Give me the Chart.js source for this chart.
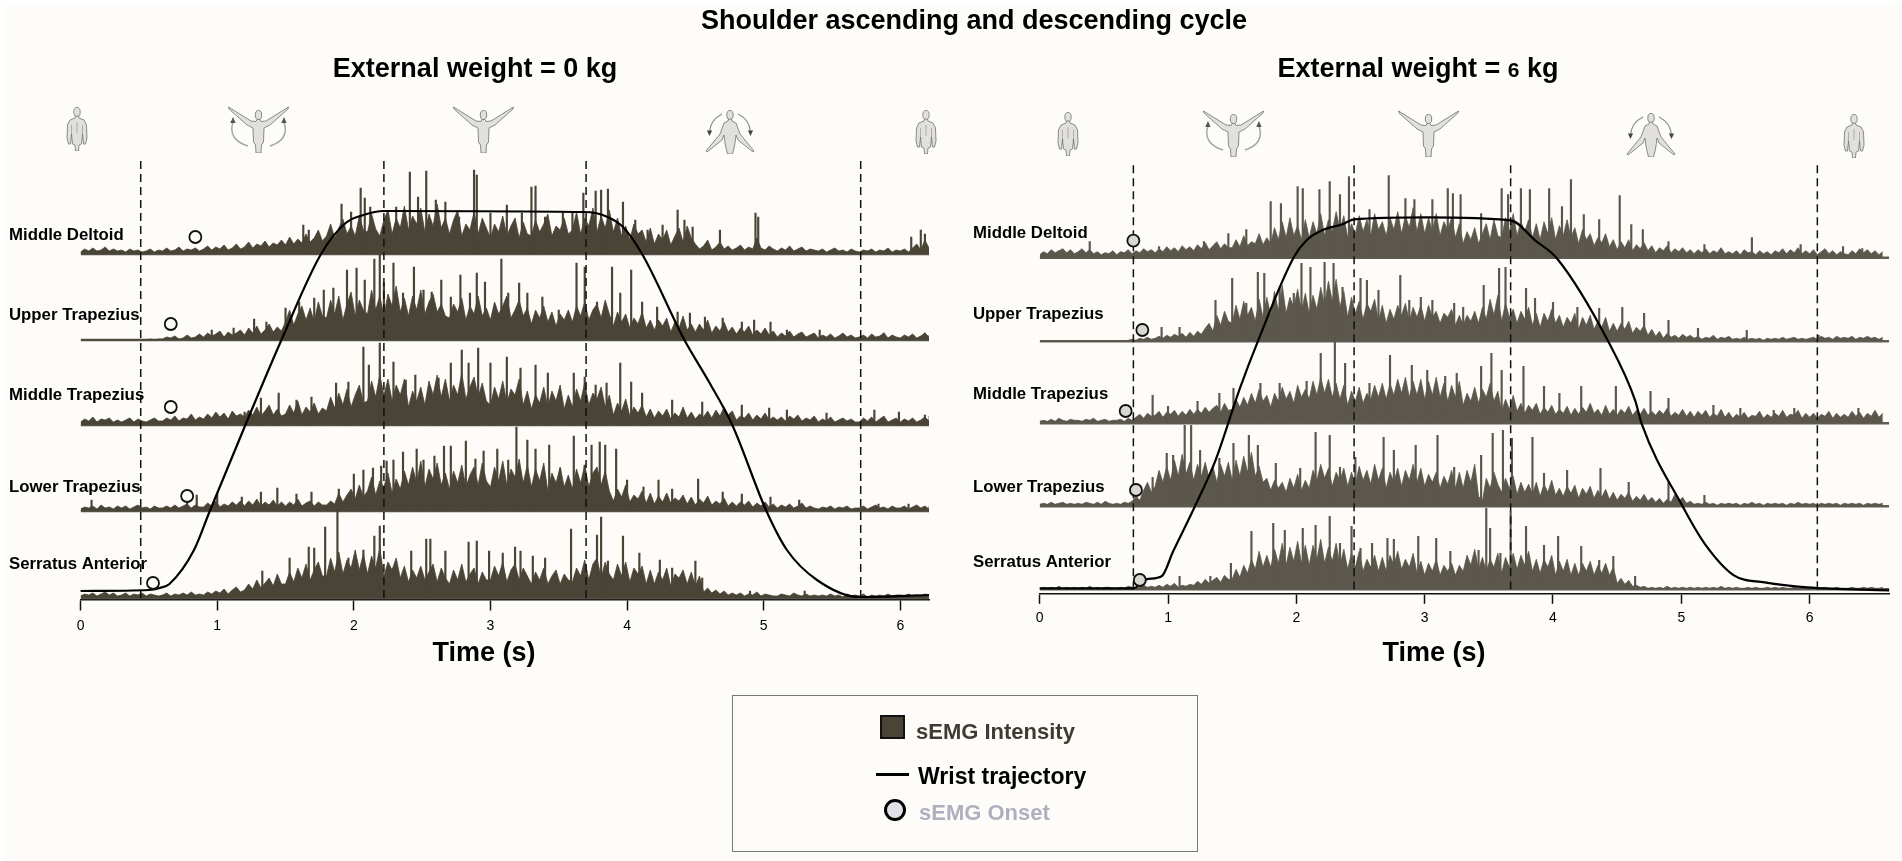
<!DOCTYPE html>
<html><head><meta charset="utf-8">
<script src="https://cdn.jsdelivr.net/npm/chart.js@4/dist/chart.umd.min.js"></script>
<style>
html,body{margin:0;padding:0;background:#fff;width:1902px;height:861px;overflow:hidden;font-family:"Liberation Sans",Arial,sans-serif}
#paper{position:absolute;left:5px;top:5px;right:0;bottom:0;background:#fdfcf9}
canvas{position:absolute}
.head{position:absolute;transform:translateX(-50%);white-space:nowrap;font-weight:bold;font-size:27px;line-height:32px;color:#000}
#legend{position:absolute;left:732px;top:695px;width:466px;height:157px;border:1.5px solid #777;box-sizing:border-box}
.lg{position:absolute;font-weight:bold;white-space:nowrap;line-height:26px}
.icon{position:absolute;overflow:visible}
</style></head><body>
<div id="paper"></div>
<canvas id="c0" style="left:0;top:0;width:950px;height:700px"></canvas>
<canvas id="c1" style="left:942px;top:0;width:955px;height:700px"></canvas>
<div class="head" style="left:974px;top:4px">Shoulder ascending and descending cycle</div>
<div class="head" style="left:475px;top:52px">External weight = 0 kg</div>
<div class="head" style="left:1418px;top:52px">External weight = <span style="font-size:21px">6</span> kg</div>
<div class="head" style="left:484px;top:636px">Time (s)</div>
<div class="head" style="left:1434px;top:636px">Time (s)</div>
<svg width="0" height="0" style="position:absolute"><defs>
<symbol id="stand" viewBox="0 0 22 44"><ellipse cx="11" cy="5" rx="3.2" ry="4.6" fill="#e2e0dc" stroke="#77787a" stroke-width=".8"/><path d="M9.5 9 L12.5 9 L13 11 L18 13 L20.5 18 L21 31 L19.5 37 L17.5 37 L16.5 27 L15.5 37 L13 38 L12.5 44 L9.5 44 L9 38 L6.5 37 L5.5 27 L4.5 37 L2.5 37 L1 31 L1.5 18 L4 13 L9 11Z" fill="#e2e0dc" stroke="#6f7072" stroke-width=".8"/><path d="M11 15V26M5.5 18V27M16.5 18V27" stroke="#8a8a88" stroke-width=".6" fill="none"/></symbol>
<symbol id="raiseB" viewBox="0 0 61 47"><g fill="#e2e0dc" stroke="#6f7072" stroke-width=".8"><ellipse cx="30.5" cy="9" rx="3.2" ry="4.6"/><path d="M29 13.5 L32 13.5 L33 15.5 L38 15 L60.5 1 L60 3 L42 19 L36 22 L35.5 36 L33.5 39 L33 47 L28 47 L27.5 39 L25.5 36 L25 22 L19 19 L1 3 L0.5 1 L23 15 L28 15.5Z"/></g></symbol>
<symbol id="raise" viewBox="0 0 61 47"><g fill="#e2e0dc" stroke="#6f7072" stroke-width=".8"><ellipse cx="30.5" cy="9" rx="3.2" ry="4.6"/><path d="M29 13.5 L32 13.5 L33 15.5 L38 15 L60.5 1 L60 3 L42 19 L36 22 L35.5 36 L33.5 39 L33 47 L28 47 L27.5 39 L25.5 36 L25 22 L19 19 L1 3 L0.5 1 L23 15 L28 15.5Z"/></g><path d="M5 16 C1 28 7 36 20 40M56 16 C60 28 54 36 42 40" fill="none" stroke="#a5a6a6" stroke-width="1.5"/><path d="M5 11 l-2.8 6 l5.4 0zM56 11 l-2.8 6 l5.4 0z" fill="#555"/></symbol>
<symbol id="lower" viewBox="0 0 50 44"><g fill="#e2e0dc" stroke="#6f7072" stroke-width=".8"><ellipse cx="25" cy="5" rx="3.2" ry="4.6"/><path d="M23.5 9 L26.5 9 L27 11 L31 13 L35 24 L49 41 L48 42 L33 30 L31 25 L30 33 L29 38 L27.5 44 L22.5 44 L21 38 L20 33 L19 25 L17 30 L2 42 L1 41 L15 24 L19 13 L23 11Z"/></g><path d="M17 4 C9 8 5 14 4.5 22M33 4 C41 8 45 14 45.5 22" fill="none" stroke="#8d8e8e" stroke-width="1.2"/><path d="M4.5 26 l-2.6 -5.5 l5.2 0zM45.5 26 l-2.6 -5.5 l5.2 0z" fill="#444"/></symbol>
</defs></svg>
<svg class="icon" style="left:66px;top:107px" width="22" height="44"><use href="#stand"/></svg>
<svg class="icon" style="left:228px;top:106px" width="61" height="47"><use href="#raise"/></svg>
<svg class="icon" style="left:453px;top:106px" width="61" height="47"><use href="#raiseB"/></svg>
<svg class="icon" style="left:705px;top:110px" width="50" height="44"><use href="#lower"/></svg>
<svg class="icon" style="left:915px;top:110px" width="22" height="44"><use href="#stand"/></svg>
<svg class="icon" style="left:1057px;top:112px" width="22" height="44"><use href="#stand"/></svg>
<svg class="icon" style="left:1203px;top:110px" width="61" height="47"><use href="#raise"/></svg>
<svg class="icon" style="left:1398px;top:110px" width="61" height="47"><use href="#raiseB"/></svg>
<svg class="icon" style="left:1626px;top:113px" width="50" height="44"><use href="#lower"/></svg>
<svg class="icon" style="left:1843px;top:114px" width="22" height="44"><use href="#stand"/></svg>
<div id="legend"></div>
<div class="lg" style="left:880px;top:715px;width:25px;height:24px;background:#4a4436;border:2px solid #111;box-sizing:border-box"></div>
<div class="lg" style="left:916px;top:719px;font-size:22px;color:#3f3b33">sEMG Intensity</div>
<div class="lg" style="left:876px;top:773px;width:33px;height:3px;background:#000"></div>
<div class="lg" style="left:918px;top:763px;font-size:23px;color:#000">Wrist trajectory</div>
<div class="lg" style="left:884px;top:799px;width:22px;height:22px;border-radius:50%;background:#e0e0e6;border:3px solid #000;box-sizing:border-box"></div>
<div class="lg" style="left:919px;top:800px;font-size:22px;color:#b0afc0">sEMG Onset</div>
<script>
const muscles=["Middle Deltoid","Upper Trapezius","Middle Trapezius","Lower Trapezius","Serratus Anterior"];
const xTicks=[0,1,2,3,4,5,6];
const envStep=0.03;

// ---- external weight 0 kg ----
const wristT0=[0,0.5,0.58,0.65,0.83,0.94,1.2,1.47,1.76,1.94,2.07,2.22,3.69,3.84,3.97,4.11,4.42,4.6,4.77,5.02,5.17,5.39,5.7,6.21];
const wristY0=[9,10,12,16,50,87,173,260,346,377,385,389,388,384,373,346,260,218,175,89,50,20,3,5];
const cycle0=[0.44,2.22,3.7,5.71];
const onsetT0=[0.84,0.66,0.66,0.78,0.53];
const onsetY0=[363,276,193,104,17];
const base0=[346,260,175,89,2];
const labelY0=[235,315,395,487,564];
const env0Deltoid=[2,5,3,6,3,4,7,3,5,3,4,2,5,3,4,2,3,5,2,4,3,6,3,4,7,3,5,4,6,3,5,8,4,7,5,9,4,6,10,5,7,12,6,10,8,13,7,11,9,14,9,17,10,15,11,20,12,16,24,13,18,30,16,26,35,20,28,18,38,24,22,40,25,18,34,44,20,36,26,48,24,38,30,46,22,40,28,50,26,36,20,34,44,18,30,24,42,20,36,26,16,30,22,38,18,28,36,16,32,20,18,34,22,30,40,18,28,24,36,20,24,42,20,36,28,46,22,38,26,44,22,36,18,28,14,30,20,24,12,26,10,20,14,24,9,18,26,12,28,16,10,5,8,14,4,7,12,5,8,4,6,9,4,7,5,16,6,4,8,5,3,6,4,8,3,5,7,3,5,4,3,5,2,4,6,3,4,2,5,3,2,4,3,5,2,4,3,6,2,4,3,5,2,6,10,4,14,6,3];
const env0Upper=[0,0,0,0,0,0,0,0,0,0,0,0,0,0,0,0,0,1,0,1,1,3,2,4,1,2,5,2,3,6,3,7,4,6,9,3,8,5,7,10,5,12,7,14,6,10,16,8,13,9,18,30,15,26,34,20,32,18,38,24,22,40,26,44,20,36,48,24,40,30,26,50,30,44,24,46,34,54,28,42,24,44,30,50,26,38,46,28,36,24,22,36,28,42,20,34,26,44,24,32,20,38,26,34,44,22,30,40,24,32,16,30,22,34,18,28,14,26,20,30,18,34,24,38,20,30,36,22,40,26,14,28,18,26,12,22,16,28,12,20,10,20,14,22,8,18,12,24,10,16,8,16,10,20,7,14,9,18,8,13,6,12,8,14,5,10,6,12,5,9,3,7,4,9,3,6,8,3,5,7,2,5,3,6,2,4,7,3,5,2,3,5,2,6,3,4,7,2,5,3,2,5,3,6,2,4,7,3,5];
const env0Middle=[3,6,4,8,3,6,5,7,3,5,3,5,7,3,6,4,3,5,7,4,4,7,5,9,4,7,6,11,5,8,6,11,7,13,8,12,6,14,9,11,8,15,10,18,9,14,20,10,16,9,11,20,12,24,10,18,13,22,11,17,14,28,17,32,20,36,18,30,40,22,24,44,28,50,30,46,24,40,30,46,18,34,24,38,20,44,30,50,28,46,24,40,30,52,26,38,48,28,42,24,20,38,26,44,22,36,30,46,20,34,16,30,22,38,18,34,24,40,16,30,18,36,24,42,20,32,26,38,18,30,10,22,14,26,9,18,12,20,8,16,7,14,9,16,6,12,8,18,7,13,6,11,8,14,7,15,9,18,10,14,5,9,7,12,5,10,6,12,5,8,5,8,4,9,6,10,4,7,5,9,3,6,4,8,3,5,7,4,6,3,3,7,4,8,3,6,9,3,5,7,3,6,4,7,3,5,8,4,9];
const env0Lower=[2,4,3,5,2,6,3,4,2,5,3,5,2,4,6,3,4,2,5,3,3,5,3,6,3,5,7,3,6,4,4,8,5,10,4,7,5,9,6,10,5,10,6,12,5,9,6,11,5,9,5,9,6,12,5,8,10,5,9,6,6,10,7,18,9,16,22,12,26,14,20,34,16,30,24,38,18,32,22,40,26,44,28,50,24,42,32,48,26,38,22,40,28,46,24,36,44,26,48,30,24,44,30,50,26,42,34,52,28,46,24,42,30,48,20,38,28,44,24,36,22,42,28,46,24,38,44,26,40,20,10,22,14,26,9,16,12,20,8,18,7,15,9,18,8,13,10,16,7,14,6,12,8,15,6,10,7,13,5,9,5,9,6,10,4,8,5,9,4,7,3,6,4,7,3,5,8,3,5,3,2,4,3,5,2,4,3,5,2,3,3,5,2,4,6,3,4,2,5,3,3,5,2,4,6,3,5,2,5];
const env0Serratus=[2,4,3,5,2,4,6,3,5,2,3,5,2,4,3,5,2,4,3,2,3,5,2,4,3,5,3,6,3,4,3,6,4,7,5,9,4,8,11,6,8,14,9,18,10,15,20,12,24,14,14,26,16,30,20,34,18,28,36,22,22,40,26,46,24,38,30,48,28,44,24,42,30,50,22,36,28,40,20,32,16,28,20,32,18,26,34,16,30,20,14,28,18,34,16,24,30,14,26,18,18,32,22,36,16,28,34,18,30,22,14,26,18,30,14,22,28,14,24,18,16,30,22,38,18,34,40,20,36,24,18,34,22,36,16,30,24,32,14,28,14,26,18,30,12,24,20,28,14,26,12,22,6,10,5,8,4,7,3,5,3,5,2,4,3,6,2,4,3,2,2,4,3,2,5,3,2,4,2,3,2,3,2,4,2,3,1,4,2,3,2,4,1,3,2,3,2,4,2,3,3,2,4,2,3,2,4,3,2];
const spk0Deltoid=[[1.63,29],[1.67,24],[1.91,50],[1.98,42],[2.05,66],[2.08,56],[2.12,47],[2.25,41],[2.31,47],[2.41,82],[2.47,57],[2.53,83],[2.6,54],[2.67,52],[2.77,37],[2.88,84],[2.9,79],[3,41],[3.12,49],[3.23,41],[3.3,67],[3.33,68],[3.4,37],[3.53,41],[3.6,41],[3.68,61],[3.77,63],[3.81,64],[3.86,65],[3.97,52],[4.06,34],[4.15,24],[4.26,29],[4.37,44],[4.42,34],[4.48,27],[4.68,24],[4.94,41],[4.96,37],[6.08,17],[6.15,24],[6.18,20]];
const spk0Upper=[[0.96,10],[1.12,12],[1.27,21],[1.36,18],[1.5,32],[1.6,38],[1.71,42],[1.78,50],[1.85,52],[1.95,70],[2.02,72],[2.08,60],[2.15,81],[2.19,85],[2.22,57],[2.29,77],[2.36,47],[2.44,73],[2.51,50],[2.57,48],[2.64,60],[2.71,43],[2.78,65],[2.85,47],[2.9,67],[2.96,58],[3.08,81],[3.13,47],[3.21,57],[3.27,47],[3.38,43],[3.5,30],[3.63,77],[3.69,73],[3.78,38],[3.89,73],[3.95,47],[4.03,70],[4.11,38],[4.22,33],[4.37,28],[4.46,27],[4.57,23],[4.7,22],[4.84,18],[4.93,20],[5.05,18],[5.17,10],[5.41,10],[5.88,7],[6.18,7]];
const spk0Middle=[[1.2,13],[1.32,27],[1.45,32],[1.58,25],[1.69,28],[1.87,42],[1.96,43],[2.07,78],[2.11,60],[2.19,82],[2.29,63],[2.38,45],[2.45,50],[2.62,47],[2.71,62],[2.79,75],[2.84,62],[2.91,77],[3,62],[3.12,68],[3.22,57],[3.33,60],[3.42,52],[3.61,52],[3.69,48],[3.77,40],[3.85,42],[3.95,62],[4.03,43],[4.11,32],[4.33,25],[4.55,23],[4.84,20],[5.04,17],[5.17,15],[5.46,12],[5.81,15],[5.99,13],[6.18,10]];
const spk0Lower=[[0.08,11],[0.78,12],[0.85,16],[1,17],[1.18,14],[1.32,19],[1.44,23],[1.58,17],[1.69,19],[1.89,22],[2,37],[2.07,41],[2.14,43],[2.2,45],[2.24,50],[2.29,51],[2.36,59],[2.46,62],[2.51,51],[2.59,55],[2.66,65],[2.71,65],[2.82,70],[2.89,52],[2.95,60],[3.05,62],[3.13,51],[3.19,84],[3.27,71],[3.33,62],[3.43,66],[3.51,42],[3.61,75],[3.69,46],[3.74,66],[3.8,69],[3.84,66],[3.92,62],[4,31],[4.12,24],[4.23,31],[4.33,22],[4.52,32],[4.7,19],[4.84,17],[5.05,14],[5.26,11],[5.84,7],[6.06,7]];
const spk0Serratus=[[1.33,27],[1.53,40],[1.67,51],[1.71,50],[1.79,71],[1.88,87],[1.96,40],[2.07,48],[2.15,62],[2.19,72],[2.29,30],[2.42,47],[2.53,59],[2.56,59],[2.67,47],[2.84,56],[2.9,57],[2.99,47],[3.09,45],[3.18,51],[3.22,47],[3.31,42],[3.4,40],[3.59,69],[3.69,33],[3.78,63],[3.81,81],[3.86,37],[3.97,62],[4.09,45],[4.24,38],[4.33,30],[4.5,37],[4.55,20],[4.9,7],[5.3,7]];

// ---- external weight 6 kg ----
const wristT1=[0,0.73,0.83,0.95,1.04,1.21,1.37,1.56,1.7,1.98,2.08,2.22,2.36,2.45,3.02,3.67,3.86,4.03,4.43,4.64,4.69,5.01,5.18,5.41,5.65,5.98,6.62];
const wristY1=[5,5,14,17,42,87,133,205,252,336,353,364,369,374,376,373,353,335,252,193,170,87,50,18,11,6,3];
const cycle1=[0.73,2.45,3.67,6.06];
const onsetT1=[0.73,0.8,0.67,0.75,0.78];
const onsetY1=[352.6,263.3,182.3,103.3,13.3];
const base1=[335.6,252,170,87,4];
const labelY1=[233,314,394,487,562];
const env1Deltoid=[3,6,4,8,5,7,9,5,8,4,6,9,5,8,4,6,3,5,4,7,3,6,5,8,4,7,5,9,6,8,5,9,6,11,7,10,6,12,8,11,7,13,9,15,8,12,16,9,14,10,10,18,11,22,12,16,14,24,13,20,14,30,18,36,20,40,22,32,18,38,20,36,24,44,22,38,26,46,28,42,20,34,24,42,26,38,22,44,28,36,22,40,28,46,24,42,30,50,26,44,24,40,26,44,22,36,28,40,20,34,14,26,18,30,14,24,34,18,38,22,20,40,26,44,22,36,26,38,20,34,18,36,24,40,18,32,22,38,20,30,14,28,18,24,12,20,15,24,11,18,8,16,10,18,7,13,9,15,7,12,5,10,7,12,5,9,6,10,5,8,4,8,5,9,4,7,5,10,4,6,4,7,3,8,5,6,3,7,4,6,3,7,5,9,4,8,5,10,4,7,4,8,3,6,9,4,7,3,6,4,3,7,4,9,5,8,4,7,3,6];
const env1Upper=[0,0,0,0,0,0,0,0,0,0,0,0,0,0,0,0,0,0,0,0,0,0,0,1,2,1,3,2,4,2,3,5,3,6,4,7,5,8,4,9,5,10,7,13,18,10,26,16,30,20,18,36,22,40,26,34,20,42,24,44,26,50,30,56,28,44,34,52,30,48,28,46,32,54,36,60,40,62,34,50,24,44,28,40,22,38,30,42,20,36,18,32,22,36,26,38,20,34,24,36,20,36,24,30,18,28,24,32,16,26,16,26,20,30,18,34,22,42,26,46,20,38,24,32,18,30,22,34,16,28,14,28,20,32,18,26,14,24,18,28,12,24,16,26,12,20,14,24,10,18,10,18,12,20,8,14,10,16,6,12,5,10,3,8,4,6,3,7,4,6,3,5,2,4,3,6,2,4,3,5,2,3,2,4,2,3,2,3,1,3,2,3,2,4,2,3,4,2,3,2,3,4,2,5,3,4,2,5,3,4,3,5,2,4,3,5,3,4,2,4];
const env1Middle=[2,3,2,4,2,5,3,2,4,3,3,2,4,3,5,2,3,4,2,3,3,4,2,5,3,6,9,5,10,7,8,12,6,11,9,13,7,12,8,14,9,14,10,16,11,15,18,11,20,13,14,24,16,26,18,30,20,34,22,28,16,30,22,36,24,32,20,38,26,34,24,42,28,46,30,44,26,40,24,38,18,32,22,36,20,30,24,38,26,40,24,40,28,44,30,46,26,42,28,44,24,42,28,46,26,40,22,38,26,42,18,30,22,36,20,34,26,40,22,32,12,24,14,28,12,20,10,18,13,20,9,16,11,18,9,14,10,17,8,15,9,16,11,20,10,14,8,18,9,14,8,14,10,17,8,13,9,15,8,12,8,13,9,15,7,11,8,14,7,12,6,12,8,13,6,10,7,14,6,11,5,9,6,11,5,8,7,12,5,9,6,10,7,13,6,9,8,13,5,10,6,10,5,9,7,12,5,10,6,9,6,12,7,11,5,10,7,13,6,10];
const env1Lower=[2,3,2,4,2,3,4,2,3,2,3,2,4,3,2,4,2,5,3,2,3,2,4,3,5,10,6,16,24,14,20,36,24,40,26,46,30,52,32,44,26,42,30,44,28,40,24,42,30,44,26,46,30,50,34,54,30,40,24,28,16,26,18,24,14,28,18,32,16,26,18,36,26,42,28,38,20,34,26,38,20,34,22,40,26,36,22,42,26,38,18,34,24,38,20,36,26,42,24,38,20,32,24,34,18,30,22,36,18,34,18,36,24,42,10,5,28,18,34,22,14,28,18,30,12,24,14,22,12,24,10,22,14,26,11,18,10,20,13,21,8,18,12,20,8,16,9,17,7,14,6,12,8,14,5,10,6,12,5,9,4,8,3,7,4,12,5,9,3,5,2,3,2,4,2,3,1,3,2,3,2,3,1,3,2,4,2,3,1,3,2,3,2,3,1,3,2,4,2,3,2,3,1,3,2,3,2,3,1,3,2,3,2,3,1,3,2,3,2,3];
const env1Serratus=[1,2,1,2,1,3,1,2,1,2,1,2,1,3,1,2,1,2,2,1,1,2,1,3,2,1,2,4,2,3,2,4,2,5,3,6,2,4,3,5,4,8,5,10,6,9,12,7,14,10,10,20,12,24,16,30,20,38,22,34,22,40,26,46,24,42,28,48,26,44,24,44,30,50,26,42,28,46,24,40,20,36,22,38,18,30,22,34,18,32,18,34,24,38,20,30,22,36,16,28,14,26,18,30,14,24,18,26,14,24,18,34,24,40,20,32,18,30,22,36,16,32,22,36,20,34,24,38,18,30,16,30,22,34,14,28,18,30,14,26,14,26,18,28,14,24,16,26,14,22,6,11,5,9,3,4,2,3,1,2,1,2,1,3,1,2,1,2,1,2,1,2,1,2,1,2,1,3,1,2,1,2,1,1,2,1,2,1,1,2,1,2,1,2,1,1,2,1,2,1,1,2,1,1,2,1,1,2,1,1,1,2,1,1,2,1,2,1,1,2];
const spk1Deltoid=[[0.39,16],[0.93,11],[1.28,16],[1.47,24],[1.61,28],[1.8,56],[1.88,54],[2.01,71],[2.05,69],[2.18,68],[2.26,76],[2.34,63],[2.41,81],[2.57,48],[2.72,82],[2.85,59],[2.92,58],[3.06,58],[3.18,69],[3.22,64],[3.28,63],[3.44,44],[3.6,69],[3.65,63],[3.75,69],[3.82,68],[3.97,69],[4.07,51],[4.14,78],[4.24,43],[4.36,38],[4.52,62],[4.61,33],[4.7,28],[4.9,16],[5.18,13],[5.55,20],[5.93,13],[6.26,11],[6.41,9]];
const spk1Upper=[[0.95,14],[1.09,14],[1.37,41],[1.5,63],[1.61,38],[1.7,69],[1.75,68],[1.87,54],[1.98,48],[2.04,78],[2.11,74],[2.22,79],[2.29,78],[2.36,54],[2.5,63],[2.55,61],[2.64,51],[2.81,66],[2.88,41],[2.97,44],[3.06,41],[3.23,38],[3.3,34],[3.46,56],[3.58,73],[3.63,74],[3.79,53],[3.86,43],[4,39],[4.19,34],[4.36,33],[4.54,34],[4.71,28],[4.9,21],[5.13,13],[5.51,11],[6.07,6]];
const spk1Middle=[[0.88,28],[1,17],[1.23,22],[1.4,30],[1.51,35],[1.72,40],[1.87,40],[2.08,42],[2.19,70],[2.3,82],[2.38,60],[2.57,40],[2.73,68],[2.9,58],[3.02,53],[3.16,47],[3.25,50],[3.44,57],[3.52,70],[3.6,53],[3.77,57],[3.93,37],[4.05,30],[4.22,37],[4.49,37],[4.76,32],[4.9,25],[5.25,18],[5.46,15],[5.72,13],[5.88,15],[6.38,15]];
const spk1Lower=[[0.88,29],[0.99,53],[1.04,51],[1.13,81],[1.18,81],[1.25,56],[1.4,48],[1.51,63],[1.63,71],[1.7,61],[1.84,43],[2.03,38],[2.15,74],[2.26,71],[2.34,39],[2.46,49],[2.68,69],[2.76,56],[2.93,61],[3.1,71],[3.23,39],[3.44,51],[3.53,73],[3.61,76],[3.68,68],[3.84,69],[3.93,33],[4.11,36],[4.37,38],[4.59,24],[4.9,24],[5.18,11],[5.37,3]];
const spk1Serratus=[[1.09,13],[1.33,13],[1.49,26],[1.65,58],[1.82,66],[1.91,59],[2.05,61],[2.15,64],[2.26,73],[2.34,46],[2.43,63],[2.5,41],[2.59,46],[2.71,51],[2.76,50],[2.95,53],[3.09,51],[3.2,38],[3.42,39],[3.48,81],[3.51,61],[3.59,36],[3.67,78],[3.79,63],[3.93,44],[4.04,53],[4.22,43],[4.36,29],[4.47,33],[4.64,13]];

const FONT='"Liberation Sans",Arial,sans-serif';
function panel(id,cfg){
  const ds=[];
  ds.push({type:'scatter',data:cfg.onsetT.map((t,i)=>({x:t,y:cfg.onsetY[i]})),pointRadius:6,pointBorderWidth:1.8,pointBorderColor:'#111',pointBackgroundColor:cfg.onsetFill,showLine:false,order:0,clip:false});
  ds.push({type:'line',data:cfg.wristT.map((t,i)=>({x:t,y:cfg.wristY[i]})),borderColor:'#000',borderWidth:2.2,pointRadius:0,cubicInterpolationMode:'monotone',fill:false,order:1,clip:false});
  cfg.cycle.forEach(t=>ds.push({type:'line',data:[{x:t,y:cfg.dashBottom},{x:t,y:cfg.dashTop}],borderColor:'#111',borderWidth:1.5,borderDash:[8,5],pointRadius:0,order:2,clip:false}));
  cfg.base.forEach((b,i)=>{
    ds.push({type:'bar',data:cfg.spikes[i].map(p=>({x:p[0],y:b+p[1]})),base:b,backgroundColor:cfg.body,barThickness:1.5,grouped:false,order:3});
    ds.push({type:'line',data:cfg.env[i].map((v,k)=>({x:Math.min(k*envStep,cfg.xMax),y:b+v})),borderColor:cfg.body,borderWidth:0.8,pointRadius:0,tension:0,fill:{value:b},backgroundColor:cfg.body,order:4});
    ds.push({type:'line',data:[{x:0,y:b},{x:cfg.xMax,y:b}],borderColor:cfg.line,borderWidth:2.6,pointRadius:0,order:5});
  });
  const labelPlugin={id:'rowLabels',afterDatasetsDraw(c){
    const g=c.ctx;g.save();g.font='bold 16.8px '+FONT;g.fillStyle='#000';g.textBaseline='middle';g.textAlign='left';
    muscles.forEach((m,i)=>g.fillText(m,cfg.labelX,cfg.labelY[i]));g.restore();}};
  return new Chart(document.getElementById(id),{type:'bar',data:{datasets:ds},plugins:[labelPlugin],options:{
    responsive:false,animation:false,devicePixelRatio:1,
    layout:{padding:{left:cfg.left,right:cfg.right,top:150,bottom:0}},
    plugins:{legend:{display:false},tooltip:{enabled:false},title:{display:false}},
    scales:{
      x:{type:'linear',min:0,max:cfg.xMax,offset:false,
        grid:{display:true,offset:false,drawOnChartArea:false,drawTicks:true,tickLength:10.5,tickColor:'#111',tickWidth:1.5},
        border:{display:true,color:'#111',width:1.6},
        afterBuildTicks(s){s.ticks=xTicks.map(v=>({value:v}));},
        afterFit(s){s.height=700-cfg.axisY;},
        ticks:{color:'#000',font:{family:FONT,size:14},maxRotation:0,padding:cfg.tickPad,includeBounds:false,autoSkip:false}},
      y:{type:'linear',display:false,min:0,max:cfg.axisY-150,grid:{display:false}}
    }}});
}
function size(id,w,h){const c=document.getElementById(id);c.width=w;c.height=h;}
size('c0',950,700);size('c1',955,700);
panel('c0',{xMax:6.21,left:80.6,right:21,axisY:600,tickPad:7,labelX:9,labelY:labelY0,
  wristT:wristT0,wristY:wristY0,cycle:cycle0,onsetT:onsetT0,onsetY:onsetY0,base:base0,dashBottom:2,dashTop:442,onsetFill:'#fdfcf9',body:'#4a4436',line:'#55524a',
  env:[env0Deltoid,env0Upper,env0Middle,env0Lower,env0Serratus],spikes:[spk0Deltoid,spk0Upper,spk0Middle,spk0Lower,spk0Serratus]});
panel('c1',{xMax:6.62,left:97.7,right:4.3,axisY:593.3,tickPad:6,labelX:31,labelY:labelY1,
  wristT:wristT1,wristY:wristY1,cycle:cycle1,onsetT:onsetT1,onsetY:onsetY1,base:base1,dashBottom:4,dashTop:433,onsetFill:'#d8d7d0',body:'#5c574c',line:'#5f5c54',
  env:[env1Deltoid,env1Upper,env1Middle,env1Lower,env1Serratus],spikes:[spk1Deltoid,spk1Upper,spk1Middle,spk1Lower,spk1Serratus]});
</script>
</body></html>
